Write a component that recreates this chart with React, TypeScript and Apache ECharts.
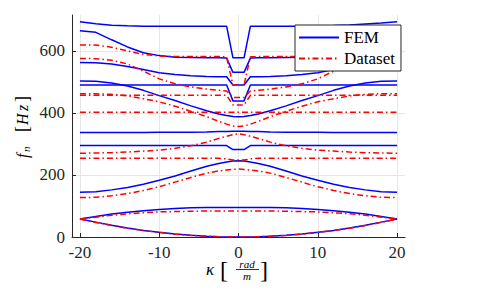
import React, { useEffect, useRef } from "react";
import * as echarts from "echarts";

const kappa = [-20, -18, -16, -14, -12, -10, -8, -6, -4, -2.5, -1.5, -0.7, 0, 0.7, 1.5, 2.5, 4, 6, 8, 10, 12, 14, 16, 18, 20];

const xTicks = [-20, -10, 0, 10, 20];
const yTicks = [0, 200, 400, 600];

// FEM branches (Hz)
const fem1 = [694, 688, 683, 681, 680, 680, 680, 680, 680, 680, 680, 578, 578, 578, 680, 680, 680, 680, 680, 681, 682, 684, 687, 690, 694];
const fem2 = [665, 660, 636, 613, 594, 585, 580, 579, 578, 578, 577, 531, 531, 531, 577, 578, 578, 579, 580, 585, 594, 613, 636, 660, 665];
const fem3 = [563, 562, 558, 550, 540, 530, 524, 520, 518, 517, 517, 490, 490, 490, 517, 517, 518, 520, 524, 530, 540, 550, 558, 562, 563];
const fem4 = [503, 502, 497, 487, 473, 456, 440, 423, 407, 397, 392, 389, 388, 389, 392, 397, 407, 423, 440, 456, 473, 487, 497, 502, 503];
const fem5 = [490, 490, 490, 490, 490, 490, 490, 490, 490, 490, 490, 439, 439, 439, 490, 490, 490, 490, 490, 490, 490, 490, 490, 490, 490];
const fem6 = [337, 337, 337, 337, 337, 338, 338, 338, 339, 340, 340, 341, 341, 341, 340, 340, 339, 338, 338, 338, 337, 337, 337, 337, 337];
const fem7 = [295, 295, 295, 295, 295, 295, 295, 295, 295, 295, 295, 282, 282, 282, 295, 295, 295, 295, 295, 295, 295, 295, 295, 295, 295];
const fem8 = [144, 146, 152, 160, 170, 183, 197, 213, 228, 237, 242, 245, 246, 245, 242, 237, 228, 213, 197, 183, 170, 160, 152, 146, 144];
const fem9 = [58, 66, 74, 80, 85, 89, 92, 94, 95, 95, 95, 95, 95, 95, 95, 95, 95, 94, 92, 89, 85, 80, 74, 66, 58];
const fem10 = [58, 48, 38, 29, 21, 15, 9.5, 5.5, 2.5, 1, 0.4, 0.1, 0, 0.1, 0.4, 1, 2.5, 5.5, 9.5, 15, 21, 29, 38, 48, 58];

// Dataset branches (Hz)
const ds1 = [619, 619, 612, 600, 589, 584, 582, 582, 582, 582, 581, 490, 490, 490, 581, 582, 582, 582, 582, 584, 589, 600, 612, 619, 619];
const ds2 = [576, 575, 570, 558, 535, 510, 494, 484, 477, 473, 471, 450, 450, 450, 471, 473, 477, 484, 494, 510, 535, 558, 570, 575, 576];
const ds3 = [462, 462, 460, 455, 446, 436, 422, 405, 388, 373, 364, 358, 356, 358, 364, 373, 388, 405, 422, 436, 446, 455, 460, 462, 462];
const ds4 = [457, 457, 457, 457, 457, 457, 457, 457, 457, 457, 457, 426, 426, 426, 457, 457, 457, 457, 457, 457, 457, 457, 457, 457, 457];
const ds5 = [402, 402, 402, 402, 402, 402, 402, 402, 402, 402, 402, 402, 402, 402, 402, 402, 402, 402, 402, 402, 402, 402, 402, 402, 402];
const ds6 = [270, 271, 272, 274, 277, 280, 286, 294, 306, 318, 325, 330, 333, 330, 325, 318, 306, 294, 286, 280, 277, 274, 272, 271, 270];
const ds7 = [254, 254, 254, 254, 254, 254, 254, 254, 254, 254, 252, 248, 248, 248, 252, 254, 254, 254, 254, 254, 254, 254, 254, 254, 254];
const ds8 = [127, 128, 133, 140, 150, 162, 177, 192, 206, 213, 216, 218, 219, 218, 216, 213, 206, 192, 177, 162, 150, 140, 133, 128, 127];
const ds9 = [58, 64, 70, 75, 78, 81, 82, 83, 84, 84, 84, 84, 84, 84, 84, 84, 84, 83, 82, 81, 78, 75, 70, 64, 58];
const ds10 = [58, 47, 37, 28, 21, 14.5, 9, 5, 2.5, 1, 0.4, 0.1, 0, 0.1, 0.4, 1, 2.5, 5, 9, 14.5, 21, 28, 37, 47, 58];

const femCurves = [fem1, fem2, fem3, fem4, fem5, fem6, fem7, fem8, fem9, fem10];
const dsCurves = [ds1, ds2, ds3, ds4, ds5, ds6, ds7, ds8, ds9, ds10];

const FONT = "Liberation Serif";
const AXIS_COLOR = "#262626";

export default function App() {
  const ref = useRef<HTMLDivElement>(null);

  useEffect(() => {
    if (!ref.current) return;
    const chart = echarts.init(ref.current, undefined, { renderer: "svg" });

    const mk = (arr: number[], name: string, color: string, type: any) => ({
      type: "line",
      name,
      data: kappa.map((k, i) => [k, arr[i]]),
      symbol: "none",
      showSymbol: false,
      smooth: false,
      lineStyle: { color, width: 1.5, type },
      itemStyle: { color },
      emphasis: { disabled: true },
      z: name === "FEM" ? 2 : 3,
    });

    const series = [
      ...femCurves.map((c) => mk(c, "FEM", "#0000ff", "solid")),
      ...dsCurves.map((c) => mk(c, "Dataset", "#ff0000", [6, 3, 1.5, 3])),
    ];

    chart.setOption({
      animation: false,
      backgroundColor: "#ffffff",
      grid: { left: 72, right: 81, top: 15, bottom: 54, containLabel: false },
      xAxis: {
        type: "value",
        min: -21,
        max: 21,
        axisLine: { show: true, onZero: false, lineStyle: { color: AXIS_COLOR, width: 1 } },
        axisTick: { show: true, inside: true, length: 4, customValues: xTicks, lineStyle: { color: AXIS_COLOR } },
        axisLabel: { customValues: xTicks, fontFamily: FONT, fontSize: 17, color: AXIS_COLOR, margin: 7 },
        splitLine: { show: true, lineStyle: { color: "#e6e6e6", width: 1 } },
      },
      yAxis: {
        type: "value",
        min: 0,
        max: 716,
        axisLine: { show: true, onZero: false, lineStyle: { color: AXIS_COLOR, width: 1 } },
        axisTick: { show: true, inside: true, length: 4, customValues: yTicks, lineStyle: { color: AXIS_COLOR } },
        axisLabel: { customValues: yTicks, fontFamily: FONT, fontSize: 17, color: AXIS_COLOR, margin: 7 },
        splitLine: { show: true, lineStyle: { color: "#e6e6e6", width: 1 } },
      },
      legend: {
        data: ["FEM", "Dataset"],
        orient: "vertical",
        left: 295,
        top: 25,
        padding: [4, 6, 4, 3],
        itemGap: 4,
        itemWidth: 40,
        itemHeight: 14,
        itemStyle: { opacity: 0 },
        backgroundColor: "#ffffff",
        borderColor: AXIS_COLOR,
        borderWidth: 1,
        textStyle: { fontFamily: FONT, fontSize: 17, color: "#000" },
      },
      graphic: [
        {
          type: "group",
          x: 22,
          y: 128,
          rotation: Math.PI / 2,
          children: [
            { type: "text", x: -30, y: 0, style: { text: "f", font: `italic 16px ${FONT}`, fill: "#000", textVerticalAlign: "middle" } },
            { type: "text", x: -24, y: 4, style: { text: "n", font: `italic 11px ${FONT}`, fill: "#000", textVerticalAlign: "middle" } },
            { type: "text", x: -4, y: 0, style: { text: "[", font: `18px ${FONT}`, fill: "#000", textVerticalAlign: "middle" } },
            { type: "text", x: 3, y: 0, style: { text: "H", font: `italic 16px ${FONT}`, fill: "#000", textVerticalAlign: "middle" } },
            { type: "text", x: 17, y: 0, style: { text: "z", font: `italic 16px ${FONT}`, fill: "#000", textVerticalAlign: "middle" } },
            { type: "text", x: 26, y: 0, style: { text: "]", font: `18px ${FONT}`, fill: "#000", textVerticalAlign: "middle" } },
          ],
        },
        { type: "text", x: 206, y: 269, style: { text: "κ", font: `italic 17px ${FONT}`, fill: "#000", textVerticalAlign: "middle" } },
        { type: "text", x: 220, y: 270, style: { text: "[", font: `24px ${FONT}`, fill: "#000", textVerticalAlign: "middle" } },
        { type: "text", x: 247, y: 264, style: { text: "rad", font: `italic 11px ${FONT}`, fill: "#000", textAlign: "center", textVerticalAlign: "middle" } },
        { type: "line", shape: { x1: 236, y1: 269.5, x2: 259, y2: 269.5 }, style: { stroke: "#000", lineWidth: 0.8 } },
        { type: "text", x: 247, y: 276, style: { text: "m", font: `italic 11px ${FONT}`, fill: "#000", textAlign: "center", textVerticalAlign: "middle" } },
        { type: "text", x: 260, y: 270, style: { text: "]", font: `24px ${FONT}`, fill: "#000", textVerticalAlign: "middle" } },
      ],
      series,
    });

    return () => chart.dispose();
  }, []);

  return <div ref={ref} style={{ position: "fixed", left: 0, top: 0, width: 486, height: 291 }} />;
}
